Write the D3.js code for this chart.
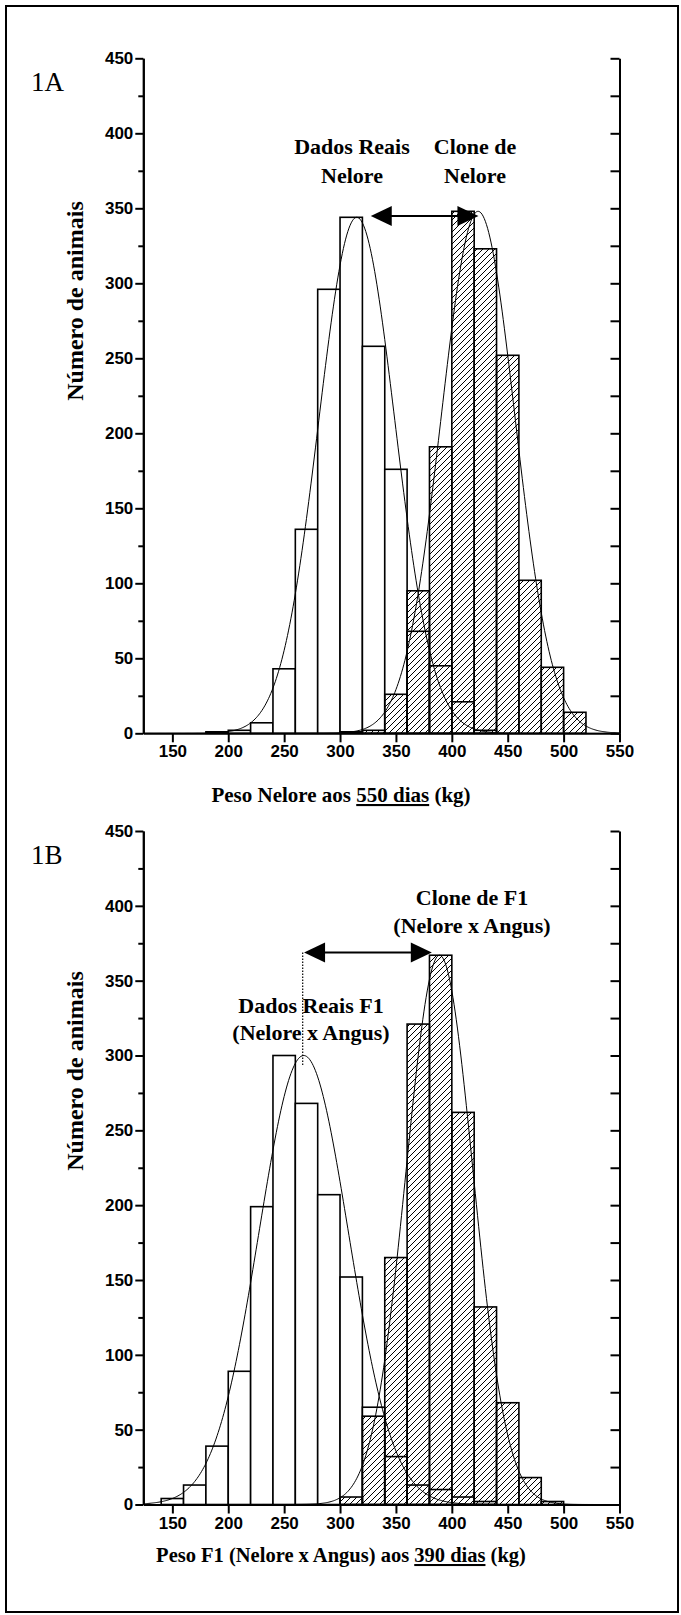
<!DOCTYPE html>
<html>
<head>
<meta charset="utf-8">
<script src="https://cdn.jsdelivr.net/npm/d3@7"></script>
<style>
  body { margin: 0; background: #fff; }
  .tick text { font-family: "Liberation Sans", Arial, sans-serif; font-weight: bold; font-size: 17px; fill: #000; }
  .serif { font-family: "Liberation Serif", "Times New Roman", serif; fill: #000; }
</style>
</head>
<body>
<div id="figure"></div>
<script>
// ---- data (counts per 20 kg class, class = left edge) ----
var bins_a  = [180, 200, 220, 240, 260, 280, 300, 320, 340, 360, 380, 400, 420, 440, 460, 480, 500];
var reais_a = [  1,   2,   7,  43, 136, 296, 344, 258, 176,  68,  45,  21,   2,   0,   0,   0,   0];
var clone_a = [  0,   0,   0,   0,   0,   0,   1,   2,  26,  95, 191, 348, 323, 252, 102,  44,  14];

var bins_b  = [140, 160, 180, 200, 220, 240, 260, 280, 300, 320, 340, 360, 380, 400, 420, 440, 460, 480];
var reais_b = [  4,  13,  39,  89, 199, 300, 268, 207, 152,  65,  32,  13,  10,   5,   2,   0,   0,   0];
var clone_b = [  0,   0,   0,   0,   0,   0,   0,   0,   5,  59, 165, 321, 367, 262, 132,  68,  18,   2];

// gaussian fits drawn over the histograms: [mean, sd, peak]
var fit_reais_a = [315, 34, 344];
var fit_clone_a = [423.5, 33, 348];
var fit_reais_b = [267.5, 40, 300];
var fit_clone_b = [389, 30, 367];

var bin_width = 20;
var x_ticks = [150, 200, 250, 300, 350, 400, 450, 500, 550];
var y_ticks = [0, 50, 100, 150, 200, 250, 300, 350, 400, 450];

var full_width = 681, full_height = 1615;
var x_left = 143.3, x_right = 619.5;

var svg = d3.select("#figure").append("svg")
            .attr("width", full_width)
            .attr("height", full_height);

// hatch pattern for the clone bars
svg.append("defs").append("pattern")
   .attr("id", "hatch")
   .attr("patternUnits", "userSpaceOnUse")
   .attr("width", 6).attr("height", 6)
   .append("path")
   .attr("d", "M0,6 L6,0 M-1,1 L1,-1 M5,7 L7,5")
   .attr("stroke", "#000").attr("stroke-width", 1);

// outer frame
svg.append("rect")
   .attr("x", 6).attr("y", 6)
   .attr("width", 672).attr("height", 1606)
   .attr("fill", "none").attr("stroke", "#000").attr("stroke-width", 2);


function getScales(y0, y1){
    var x = d3.scaleLinear().domain([124, 550]).range([x_left, x_right]);
    var y = d3.scaleLinear().domain([0, 450]).range([y0, y1]);
    return [x, y];
}

function gaussPoints(fit){
    var pts = [];
    for (var v = 124; v <= 550; v += 1) {
        pts.push([v, fit[2] * Math.exp(-Math.pow(v - fit[0], 2) / (2 * fit[1] * fit[1]))]);
    }
    return pts;
}

function drawBars(g, x, y, bins, counts, fill){
    var data = bins.map(function(b, i){ return {x0: b, n: counts[i]}; })
                   .filter(function(d){ return d.n > 0; });
    g.selectAll(null)
     .data(data)
     .enter().append("rect")
     .attr("x", function(d){ return x(d.x0); })
     .attr("width", function(d){ return x(d.x0 + bin_width) - x(d.x0); })
     .attr("y", function(d){ return y(d.n); })
     .attr("height", function(d){ return y(0) - y(d.n); })
     .attr("fill", fill)
     .attr("stroke", "#000")
     .attr("stroke-width", 1.6);
}

function drawPanel(p){
    var scales = getScales(p.y0, p.y1);
    var x = scales[0], y = scales[1];
    var g = svg.append("g");

    drawBars(g, x, y, p.bins, p.reais, "#fff");
    drawBars(g, x, y, p.bins, p.clone, "url(#hatch)");

    var line = d3.line().x(function(d){ return x(d[0]); }).y(function(d){ return y(d[1]); });
    [p.fit1, p.fit2].forEach(function(f){
        g.append("path").attr("d", line(gaussPoints(f)))
         .attr("fill", "none").attr("stroke", "#000").attr("stroke-width", 1);
    });

    // left axis, major + minor
    g.append("g").attr("transform", "translate(" + x_left + ",0)")
     .call(d3.axisLeft(y).tickValues(y_ticks).tickSize(8).tickSizeOuter(0).tickPadding(2));
    g.append("g").attr("transform", "translate(" + x_left + ",0)")
     .call(d3.axisLeft(y).tickValues(d3.range(25, 450, 50)).tickSize(5).tickSizeOuter(0).tickFormat(""));
    // right axis, ticks inward
    g.append("g").attr("transform", "translate(" + x_right + ",0)")
     .call(d3.axisLeft(y).tickValues(d3.range(0, 451, 25)).tickSize(9).tickSizeOuter(0).tickFormat(""));
    // bottom axis
    g.append("g").attr("transform", "translate(0," + y(0) + ")")
     .call(d3.axisBottom(x).tickValues(x_ticks).tickSize(9).tickSizeOuter(0).tickPadding(3));

    g.selectAll(".domain").attr("stroke-width", 2);
    g.selectAll(".tick line").attr("stroke-width", 2);

    // y title
    g.append("text").attr("class", "serif")
     .attr("transform", "translate(83," + p.ytitle + ") rotate(-90)")
     .attr("text-anchor", "middle")
     .style("font-weight", "bold").style("font-size", "24px")
     .text("Número de animais");

    // x title with underlined part
    var xt = g.append("text").attr("class", "serif")
              .attr("x", 341).attr("y", p.xtitle)
              .attr("text-anchor", "middle")
              .style("font-weight", "bold").style("font-size", p.xsize);
    xt.append("tspan").text(p.xlabel[0]);
    xt.append("tspan").style("text-decoration", "underline").text(p.xlabel[1]);
    xt.append("tspan").text(p.xlabel[2]);

    // panel letter
    g.append("text").attr("class", "serif")
     .attr("x", 31).attr("y", p.letter_y)
     .style("font-size", "27px").text(p.letter);

    // arrow
    var ay = y(p.arrow[2]);
    var xl = x(p.arrow[0]), xr = x(p.arrow[1]);
    g.append("line").attr("x1", xl + 15).attr("x2", xr - 15)
     .attr("y1", ay).attr("y2", ay)
     .attr("stroke", "#000").attr("stroke-width", 2);
    g.append("path").attr("d", "M" + xl + "," + ay + "L" + (xl + 21) + "," + (ay - 10) + "L" + (xl + 21) + "," + (ay + 10) + "Z");
    g.append("path").attr("d", "M" + xr + "," + ay + "L" + (xr - 21) + "," + (ay - 10) + "L" + (xr - 21) + "," + (ay + 10) + "Z");

    // labels
    p.notes.forEach(function(n){
        g.append("text").attr("class", "serif")
         .attr("x", n[0]).attr("y", n[1])
         .attr("text-anchor", "middle")
         .style("font-weight", "bold").style("font-size", "22px")
         .text(n[2]);
    });

    return [x, y, g];
}

drawPanel({
    y0: 733.3, y1: 58.3,
    bins: bins_a, reais: reais_a, clone: clone_a,
    fit1: fit_reais_a, fit2: fit_clone_a,
    ytitle: 301, xtitle: 802, xsize: "21px",
    xlabel: ["Peso Nelore aos ", "550 dias", " (kg)"],
    letter: "1A", letter_y: 91,
    arrow: [327.5, 423.8, 344.8],
    notes: [[352, 154, "Dados Reais"], [352, 183, "Nelore"],
            [475, 154, "Clone de"], [475, 183, "Nelore"]]
});

var pb = drawPanel({
    y0: 1504.5, y1: 831,
    bins: bins_b, reais: reais_b, clone: clone_b,
    fit1: fit_reais_b, fit2: fit_clone_b,
    ytitle: 1071, xtitle: 1562, xsize: "20.5px",
    xlabel: ["Peso F1 (Nelore x Angus) aos ", "390 dias", " (kg)"],
    letter: "1B", letter_y: 864,
    arrow: [267.8, 382.1, 368.8],
    notes: [[472, 905, "Clone de F1"], [472, 933, "(Nelore x Angus)"],
            [311, 1013, "Dados Reais F1"], [311, 1040, "(Nelore x Angus)"]]
});

// dotted guide from the arrow down to the F1 peak
pb[2].append("line")
     .attr("x1", pb[0](266.6)).attr("x2", pb[0](266.6))
     .attr("y1", pb[1](368.8)).attr("y2", pb[1](292.7))
     .attr("stroke", "#000").attr("stroke-width", 1.2)
     .attr("stroke-dasharray", "1.5,1.5");
</script>
</body>
</html>
